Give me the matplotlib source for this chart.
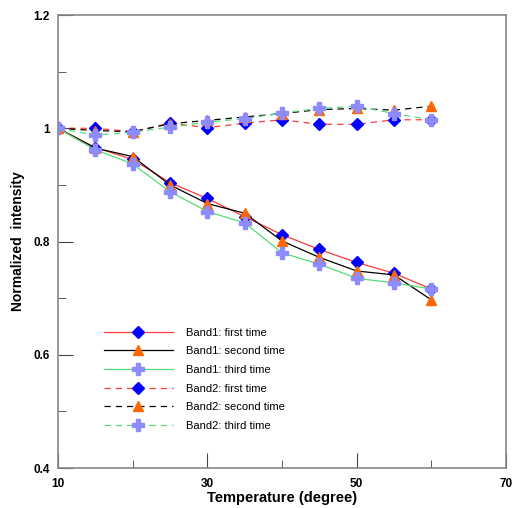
import matplotlib.pyplot as plt

plt.rcParams['font.family'] = ['Liberation Sans', 'DejaVu Sans']

temp = [10, 15, 20, 25, 30, 35, 40, 45, 50, 55, 60]

# band 1 (falling curves)
b1_first = [1.0, 0.966, 0.945, 0.904, 0.876, 0.844, 0.812, 0.786, 0.763, 0.744, 0.716]
b1_second = [1.0, 0.965, 0.950, 0.900, 0.867, 0.850, 0.801, 0.772, 0.748, 0.741, 0.697]
b1_third = [1.0, 0.962, 0.937, 0.888, 0.853, 0.833, 0.780, 0.760, 0.735, 0.727, 0.716]

# band 2 (flat curves)
b2_first = [1.0, 1.000, 0.994, 1.009, 1.001, 1.009, 1.015, 1.007, 1.007, 1.015, 1.015]
b2_second = [1.0, 0.996, 0.994, 1.008, 1.014, 1.020, 1.026, 1.033, 1.035, 1.032, 1.039]
b2_third = [1.0, 0.988, 0.993, 1.002, 1.011, 1.017, 1.027, 1.035, 1.039, 1.026, 1.015]

labels = ['Band1: first time', 'Band1: second time', 'Band1: third time',
          'Band2: first time', 'Band2: second time', 'Band2: third time']

x_major = [10, 30, 50, 70]
x_minor = [20, 40, 60]
y_major = [0.4, 0.6, 0.8, 1.0, 1.2]
y_major_labels = ['0.4', '0.6', '0.8', '1', '1.2']
y_minor = [0.5, 0.7, 0.9, 1.1]

fig = plt.figure(figsize=(5.12, 5.08), dpi=100)
ax = fig.add_axes([0.1133, 0.0787, 0.875, 0.8917])

diamond = dict(marker='D', markerfacecolor='#0000ff', markeredgecolor='#0000ff', markersize=6)
triangle = dict(marker='^', markerfacecolor='#ff6600', markeredgecolor='#ff6600', markersize=7)
cross = dict(marker='P', markerfacecolor='#8c8cff', markeredgecolor='#8c8cff', markersize=8)

ax.plot(temp, b1_first, color='#ff3b3b', lw=0.9, label=labels[0], **diamond)
ax.plot(temp, b1_second, color='black', lw=0.9, label=labels[1], **triangle)
ax.plot(temp, b1_third, color='#55dd77', lw=0.9, label=labels[2], **cross)
ax.plot(temp, b2_first, color='#ff3b3b', lw=0.9, ls=(0, (5, 4)), label=labels[3], **diamond)
ax.plot(temp, b2_second, color='black', lw=0.9, ls=(0, (5, 4)), label=labels[4], **triangle)
ax.plot(temp, b2_third, color='#55dd77', lw=0.9, ls=(0, (5, 4)), label=labels[5], **cross)

ax.set_xlim(10, 70)
ax.set_ylim(0.4, 1.2)
ax.set_xticks(x_major)
ax.set_xticks(x_minor, minor=True)
ax.set_yticks(y_major)
ax.set_yticklabels(y_major_labels)
ax.set_yticks(y_minor, minor=True)
ax.tick_params(which='both', direction='in', top=False, right=False, color='#444444',
               labelsize=8.5)
ax.tick_params(which='major', length=11)
ax.tick_params(which='minor', length=6)
ax.tick_params(axis='x', which='major', pad=7)
ax.tick_params(axis='y', which='major', pad=6)
for lab in ax.get_xticklabels() + ax.get_yticklabels():
    lab.set_fontweight('bold')
for sp in ax.spines.values():
    sp.set_color('#888888')
    sp.set_linewidth(1.2)

ax.set_xlabel('Temperature (degree)', fontsize=10.5, fontweight='bold', labelpad=1)
ax.set_ylabel('Normalized  intensity', fontsize=10, fontweight='bold', labelpad=6)

ax.legend(frameon=False, loc='lower left', bbox_to_anchor=(0.08, 0.06), fontsize=8,
          handlelength=6.2, labelspacing=0.78, handletextpad=1.2)

fig.savefig('out.png', dpi=100)
